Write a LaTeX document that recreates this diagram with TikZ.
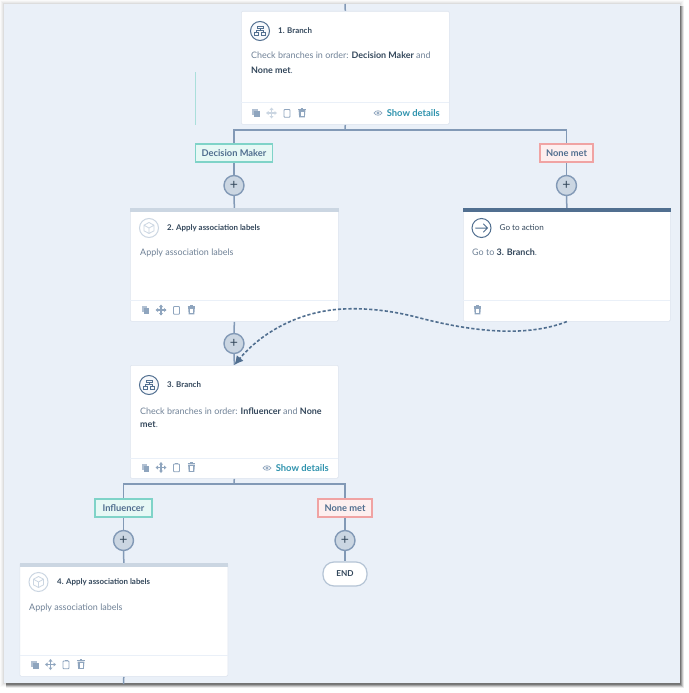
\documentclass[tikz,border=0pt]{standalone}
\usepackage{fontspec}
\setmainfont{Lato}
\usetikzlibrary{backgrounds,arrows.meta,calc}
\definecolor{panelc}{HTML}{EAF0F8}
\definecolor{linec}{HTML}{8299B6}
\definecolor{darkc}{HTML}{33475B}
\definecolor{bodyc}{HTML}{6F8196}
\definecolor{iconc}{HTML}{516F90}
\definecolor{lightc}{HTML}{CBD6E2}
\definecolor{toolc}{HTML}{8FA5BE}
\definecolor{linkc}{HTML}{2F93AE}
\definecolor{tealc}{HTML}{7FD3C8}
\definecolor{tealf}{HTML}{E6F8F5}
\definecolor{redc}{HTML}{F0A3A3}
\definecolor{redf}{HTML}{FDEFEF}
\definecolor{edgec}{HTML}{DDE4EE}
\tikzset{
  card/.style={draw=edgec,line width=0.6pt,fill=white,rounded corners=1.2pt,minimum width=208pt,minimum height=113pt,inner sep=0pt,anchor=north west},
  conn/.style={draw=linec,line width=1.5pt},
  title/.style={font=\fontsize{7.9}{9}\selectfont\bfseries,text=darkc,anchor=west,inner sep=0pt},
  bodytext/.style={font=\fontsize{8.95}{10}\selectfont,text=bodyc,anchor=west,inner sep=0pt},
  details/.style={font=\fontsize{9.4}{10}\selectfont\bfseries,text=linkc,anchor=east,inner sep=0pt},
  branchlabel/.style={line width=1.1pt,minimum height=18pt,inner sep=0pt,font=\fontsize{9.3}{10}\selectfont\bfseries,text=iconc},
  yes/.style={branchlabel,draw=tealc,fill=tealf},
  nomatch/.style={branchlabel,draw=redc,fill=redf},
  plusbtn/.style={circle,draw=linec,line width=1.4pt,fill=lightc,minimum size=20pt,inner sep=0pt,text=darkc,font=\fontsize{14}{14}\selectfont},
  endbtn/.style={rounded corners=11pt,draw=lightc!70!linec,line width=1.2pt,fill=white,minimum width=44pt,minimum height=24pt,inner sep=0pt,font=\fontsize{8.2}{10}\selectfont\bfseries,text=darkc},
  pics/branchicon/.style={code={
    \draw[iconc,line width=1pt,fill=panelc!40] (0,0) circle (9.5);
    \draw[iconc,line width=0.9pt] (-3,-5) rectangle (3,-3) (0,-3) -- (0,-1) (-3.5,1) -- (-3.5,-1) -- (3.5,-1) -- (3.5,1)
      (-5.5,1) rectangle (-1.5,4.5) (1.5,1) rectangle (5.5,4.5);
  }},
  pics/cubeicon/.style={code={
    \draw[lightc,line width=1pt,fill=white] (0,0) circle (9.5);
    \draw[lightc,line width=0.8pt,line join=round] (0,-5.5) -- (5,-2.8) -- (5,2.8) -- (0,5.5) -- (-5,2.8) -- (-5,-2.8) -- cycle (-5,-2.8) -- (0,0) -- (5,-2.8) (0,0) -- (0,5.5);
  }},
  pics/gotoicon/.style={code={
    \draw[iconc,line width=1pt,fill=white] (0,0) circle (9.5);
    \draw[iconc,line width=1pt,line cap=round,line join=round] (-6,0) -- (6,0) (2,-4) -- (6,0) -- (2,4);
  }},
  pics/copyicon/.style={code={
    \fill[toolc!70] (-4,-4) rectangle (1.5,2);
    \fill[toolc] (-2,-2) rectangle (3.5,4);
  }},
  pics/moveicon/.style={code={
    \draw[toolc,line width=1.1pt] (-4.5,0) -- (4.5,0) (0,-4.5) -- (0,4.5);
    \fill[toolc] (-5.5,0) -- (-3,-2) -- (-3,2) -- cycle (5.5,0) -- (3,-2) -- (3,2) -- cycle
      (0,-5.5) -- (-2,-3) -- (2,-3) -- cycle (0,5.5) -- (-2,3) -- (2,3) -- cycle;
  }},
  pics/clipicon/.style={code={
    \draw[toolc,line width=0.9pt,rounded corners=0.8pt] (-3,-3.5) rectangle (3,4.2);
    \draw[toolc,line width=1pt] (-1.5,-4) -- (1.5,-4);
  }},
  pics/trashicon/.style={code={
    \fill[toolc] (-3.4,-3) -- (3.4,-3) -- (2.8,4.4) -- (-2.8,4.4) -- cycle;
    \draw[white,line width=0.5pt] (-1.2,-1.5) -- (-1.2,3.2) (0,-1.5) -- (0,3.2) (1.2,-1.5) -- (1.2,3.2);
    \draw[toolc,line width=0.9pt] (-3.8,-3.7) -- (3.8,-3.7) (-1.3,-4.6) -- (1.3,-4.6);
  }},
  pics/eyeicon/.style={code={
    \draw[toolc,line width=0.7pt] (-4,0) .. controls (-2,-3) and (2,-3) .. (4,0) .. controls (2,3) and (-2,3) .. (-4,0) -- cycle;
    \draw[toolc,line width=0.7pt] (0,0) circle (1.1);
  }},
  pics/toolbar/.style={code={
    \pic at (0,0) {copyicon};
    \pic at (15.5,0) {moveicon};
    \pic at (31,0) {clipicon};
    \pic at (46,0) {trashicon};
  }}
}
\begin{document}
\begin{tikzpicture}[x=1pt,y=-1pt]
\useasboundingbox (0,0) rectangle (688,693);
% cards
\node[card] (c1) at (241,11) {};
\node[card] (c2) at (130,208) {};
\node[card,minimum width=207pt] (c5) at (463,208) {};
\node[card] (c3) at (130,365) {};
\node[card] (c4) at (19.5,563) {};
% top bands
\fill[lightc] (c2.north west) rectangle ($(c2.north east)+(0,4)$);
\fill[lightc] (c4.north west) rectangle ($(c4.north east)+(0,4)$);
\fill[iconc] (c5.north west) rectangle ($(c5.north east)+(0,4)$);
% footer rules
\draw[panelc,line width=1pt] (241,102) -- (449,102) (130,300) -- (338,300) (463,300) -- (670,300) (130,458) -- (338,458) (19.5,655) -- (227.5,655);
% icons
\pic at (260,31) {branchicon};
\pic at (149,228) {cubeicon};
\pic at (481.5,228) {gotoicon};
\pic at (149,385) {branchicon};
\pic at (38.5,582) {cubeicon};
% toolbars
\pic at (256,113) {copyicon};
\begin{scope}
  \colorlet{toolc}{lightc}
  \pic at (271.5,113) {moveicon};
\end{scope}
\pic at (287,113) {clipicon};
\pic at (302,113) {trashicon};
\pic at (145.5,310) {toolbar};
\pic at (477.5,310) {trashicon};
\pic at (145.5,467.5) {toolbar};
\pic at (35,664.5) {toolbar};
\pic at (378,113) {eyeicon};
\pic at (267,468) {eyeicon};
% titles
\node[title] (t1) at (278,31) {1. Branch};
\node[title] (t2) at (167,228) {2. Apply association labels};
\node[title,font=\fontsize{8.1}{9}\selectfont] (t5) at (499.5,228) {Go to action};
\node[title] (t3) at (167,385) {3. Branch};
\node[title] (t4) at (57,582) {4. Apply association labels};
% body text
\node[bodytext] (b1a) at (251,55.5) {Check branches in order: \textcolor{darkc}{\bfseries Decision Maker} and};
\node[bodytext] (b1b) at (251,70.5) {\textcolor{darkc}{\bfseries None met}.};
\node[bodytext] (b2) at (140,252.5) {Apply association labels};
\node[bodytext] (b5) at (472,252.5) {Go to \textcolor{darkc}{\bfseries 3. Branch}.};
\node[bodytext] (b3a) at (140,411) {Check branches in order: \textcolor{darkc}{\bfseries Influencer} and \textcolor{darkc}{\bfseries None}};
\node[bodytext] (b3b) at (140,425) {\textcolor{darkc}{\bfseries met}.};
\node[bodytext] (b4) at (29,608) {Apply association labels};
\node[details] (d1) at (440,113) {Show details};
\node[details] (d3) at (329,468) {Show details};
% branch labels
\node[yes,minimum width=77pt] (l1) at (234,153) {Decision Maker};
\node[nomatch,minimum width=53pt] (l2) at (566.5,153) {None met};
\node[yes,minimum width=57pt] (l3) at (123.5,508) {Influencer};
\node[nomatch,minimum width=54pt] (l4) at (345,508) {None met};
% add buttons
\node[plusbtn] (p1) at (234,185.5) {+};
\node[plusbtn] (p2) at (566.5,185.5) {+};
\node[plusbtn] (p3) at (234,343.5) {+};
\node[plusbtn] (p4) at (123.5,540.5) {+};
\node[plusbtn] (p5) at (345,540.5) {+};
\node[endbtn] (e1) at (345,574) {END};
% free ends
\coordinate (topend) at (345,4);
\coordinate (bus1) at (345,130);
\coordinate (bus3) at (234,484);
\coordinate (botend) at (123.5,684);
\begin{scope}[on background layer]
  % window shadow: soft all round, stronger to the right and below
  \foreach \d/\o in {4/0.02,3/0.03,2/0.04,1/0.05}{
    \fill[black,opacity=\o] (4-\d,4-\d) rectangle (680+\d,683+\d);
  }
  \foreach \d/\o in {3/0.08,2/0.12,1/0.18,0/0.22}{
    \fill[black,opacity=\o] (6,6) rectangle (681+\d,685+\d);
  }
  \fill[panelc] (4,4) rectangle (679.5,683);
  % connectors
  \draw[conn] (topend) -- (c1.north);
  \draw[conn] (c1.south) -- (bus1);
  \draw[conn] (bus1) -| (l1.north);
  \draw[conn] (bus1) -| (l2.north);
  \draw[conn] (l1) -- (p1);
  \draw[conn] (l2) -- (p2);
  \draw[conn] (p1) -- (c2.north);
  \draw[conn] (p2) -- (c5.north);
  \draw[conn] (c2.south) -- (p3);
  \draw[conn] (p3) -- (c3.north);
  \draw[conn] (c3.south) -- (bus3);
  \draw[conn] (bus3) -| (l3.north);
  \draw[conn] (bus3) -| (l4.north);
  \draw[conn] (l3) -- (p4);
  \draw[conn] (l4) -- (p5);
  \draw[conn] (p4) -- (c4.north);
  \draw[conn] (p5) -- (e1);
  \draw[conn] (c4.south) -- (botend);
  \draw[tealc!60!panelc,line width=1pt] (195,72) -- (195,125);
\end{scope}
% jump connector
\draw[iconc,line width=1.6pt,dash pattern=on 3.2pt off 2pt,-{Latex[length=9pt,width=9pt]}]
  (c5.south) .. controls (525,338) and (470,331) .. (420,318)
  .. controls (390,310) and (365,308) .. (343,309)
  .. controls (300,311) and (262,332) .. (c3.north);
\end{tikzpicture}
\end{document}
